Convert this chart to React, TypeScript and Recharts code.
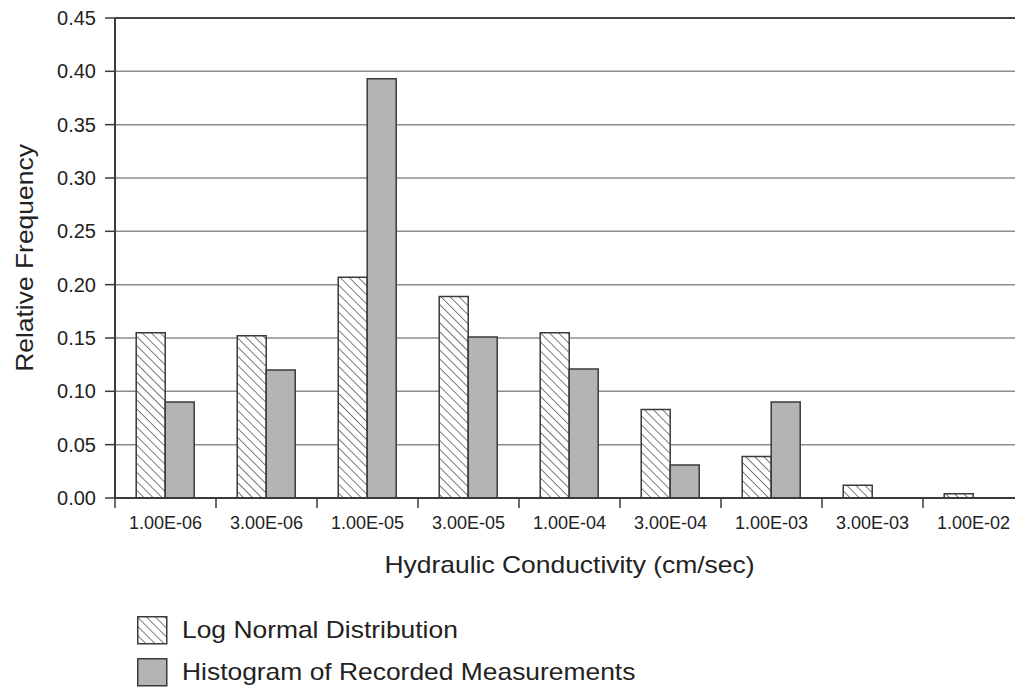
import React from "react";
import {
  BarChart,
  Bar,
  XAxis,
  YAxis,
  CartesianGrid,
  ReferenceLine,
} from "recharts";

const categories = [
  "1.00E-06",
  "3.00E-06",
  "1.00E-05",
  "3.00E-05",
  "1.00E-04",
  "3.00E-04",
  "1.00E-03",
  "3.00E-03",
  "1.00E-02",
];
const logNormal = [0.155, 0.152, 0.207, 0.189, 0.155, 0.083, 0.039, 0.012, 0.004];
const measured = [0.09, 0.12, 0.393, 0.151, 0.121, 0.031, 0.09, 0, 0];
const yTicks = [0, 0.05, 0.1, 0.15, 0.2, 0.25, 0.3, 0.35, 0.4, 0.45];

const data = categories.map((k, i) => ({
  k,
  logNormal: logNormal[i],
  measured: measured[i],
}));

const FONT = "'Liberation Sans', Arial, Helvetica, sans-serif";
const INK = "#222";
const AXIS = "#3a3a3a";
const GRAY = "#b4b4b4";
const TICK_SIZE = 10;
const TICK_MARGIN = 8;
// the titles use a slightly widened face
const WIDEN = 1.15;

// category label centred in its band, with a boundary tick on the band's left edge
function BandTick(props: any) {
  const { x, y, payload } = props;
  const half = payload && payload.offset ? payload.offset : 50.5;
  const y0 = y - TICK_SIZE - TICK_MARGIN;
  return (
    <g>
      <line
        x1={x - half}
        x2={x - half}
        y1={y0}
        y2={y0 + TICK_SIZE}
        stroke={AXIS}
        strokeWidth={1.5}
      />
      <text
        x={x}
        y={y}
        dy="0.71em"
        textAnchor="middle"
        fontSize={18}
        fontFamily={FONT}
        fill={INK}
      >
        {payload.value}
      </text>
    </g>
  );
}

function xTitle(props: any) {
  const vb = props.viewBox;
  const cx = vb.x + vb.width / 2;
  return (
    <text
      transform={`translate(${cx} ${vb.y + 75}) scale(${WIDEN} 1)`}
      textAnchor="middle"
      fontSize={23}
      fontFamily={FONT}
      fill={INK}
    >
      Hydraulic Conductivity (cm/sec)
    </text>
  );
}

function yTitle(props: any) {
  const vb = props.viewBox;
  const cy = vb.y + vb.height / 2;
  return (
    <text
      transform={`translate(${vb.x + 33} ${cy}) rotate(-90) scale(${WIDEN} 1)`}
      textAnchor="middle"
      fontSize={23}
      fontFamily={FONT}
      fill={INK}
    >
      Relative Frequency
    </text>
  );
}

function Hatch({ id }: { id: string }) {
  return (
    <pattern
      id={id}
      patternUnits="userSpaceOnUse"
      width={6.4}
      height={6.4}
      patternTransform="rotate(45)"
    >
      <rect width={6.4} height={6.4} fill="#fff" />
      <line x1={0} y1={0} x2={6.4} y2={0} stroke="#111" strokeWidth={1.1} />
    </pattern>
  );
}

function LegendRow({ hatched, label }: { hatched: boolean; label: string }) {
  return (
    <div style={{ display: "flex", alignItems: "center", height: 28, marginBottom: 14 }}>
      <svg width={31} height={29} style={{ display: "block" }}>
        <defs>
          <Hatch id="hatchKey" />
        </defs>
        <rect
          x={0.75}
          y={0.75}
          width={29}
          height={27}
          fill={hatched ? "url(#hatchKey)" : GRAY}
          stroke={AXIS}
          strokeWidth={1.5}
        />
      </svg>
      <span
        style={{
          marginLeft: 14,
          fontSize: 24,
          fontFamily: FONT,
          color: INK,
          whiteSpace: "nowrap",
          display: "inline-block",
          transform: "scaleX(1.1)",
          transformOrigin: "left center",
        }}
      >
        {label}
      </span>
    </div>
  );
}

export default function App() {
  return (
    <div
      style={{
        position: "absolute",
        left: 0,
        top: 0,
        width: 1015,
        height: 688,
        overflow: "hidden",
        background: "#fff",
      }}
    >
      <BarChart
        width={1030}
        height={688}
        data={data}
        margin={{ top: 18, right: 6, left: 0, bottom: 110 }}
        barCategoryGap="21%"
        barGap={0}
      >
        <defs>
          <Hatch id="hatchBar" />
        </defs>
        <CartesianGrid vertical={false} stroke="#8c8c8c" strokeWidth={1.5} />
        <XAxis
          dataKey="k"
          height={80}
          interval={0}
          tickLine={false}
          tickSize={TICK_SIZE}
          tickMargin={TICK_MARGIN}
          axisLine={{ stroke: AXIS, strokeWidth: 2 }}
          tick={<BandTick />}
          label={xTitle}
        />
        <YAxis
          width={115}
          domain={[0, 0.45]}
          ticks={yTicks}
          interval={0}
          tickFormatter={(v: number) => v.toFixed(2)}
          tickSize={TICK_SIZE}
          tickMargin={9}
          tick={{ fontSize: 20, fontFamily: FONT, fill: INK }}
          tickLine={{ stroke: AXIS, strokeWidth: 1.5 }}
          axisLine={{ stroke: AXIS, strokeWidth: 2 }}
          label={yTitle}
        />
        <ReferenceLine y={0.45} stroke="#444" strokeWidth={2} />
        <Bar
          dataKey="logNormal"
          fill="url(#hatchBar)"
          stroke={AXIS}
          strokeWidth={1.5}
          isAnimationActive={false}
        />
        <Bar
          dataKey="measured"
          fill={GRAY}
          stroke={AXIS}
          strokeWidth={1.5}
          isAnimationActive={false}
        />
      </BarChart>
      <div style={{ position: "absolute", left: 137, top: 616 }}>
        <LegendRow hatched label="Log Normal Distribution" />
        <LegendRow hatched={false} label="Histogram of Recorded Measurements" />
      </div>
    </div>
  );
}
